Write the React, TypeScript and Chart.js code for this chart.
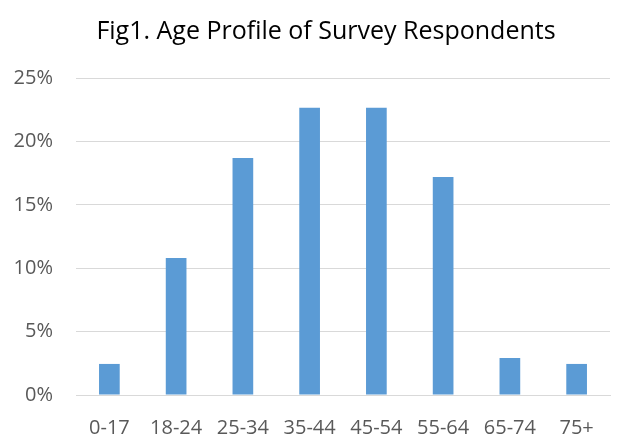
import React, { useEffect, useRef } from "react";
import { Chart, registerables } from "chart.js";

Chart.register(...registerables);

const categories = ["0-17", "18-24", "25-34", "35-44", "45-54", "55-64", "65-74", "75+"];
const shares = [2.45, 10.8, 18.7, 22.65, 22.65, 17.2, 2.92, 2.45];
const yTicks = [0, 5, 10, 15, 20, 25];
const titleText = "Fig1. Age Profile of Survey Respondents";

const shiftTitle = {
  id: "shiftTitle",
  afterLayout(chart: any) {
    if (chart.titleBlock) {
      chart.titleBlock.left = 42;
    }
  },
};

export default function App() {
  const ref = useRef<HTMLCanvasElement | null>(null);

  useEffect(() => {
    if (!ref.current) return;
    const chart = new Chart(ref.current, {
      type: "bar",
      data: {
        labels: categories,
        datasets: [
          {
            data: shares,
            backgroundColor: "#5B9BD5",
            barPercentage: 0.31,
            categoryPercentage: 1,
          },
        ],
      },
      plugins: [shiftTitle],
      options: {
        animation: false,
        responsive: false,
        maintainAspectRatio: false,
        layout: { padding: { left: 12, right: 11, top: 0, bottom: 0 } },
        plugins: {
          legend: { display: false },
          tooltip: { enabled: false },
          title: {
            display: true,
            text: titleText,
            color: "#000000",
            font: { family: "Open Sans", size: 25, weight: "normal" },
            padding: { top: 17, bottom: 31 },
          },
        },
        scales: {
          x: {
            afterFit: (scale: any) => {
              scale.height = 40;
            },
            grid: { display: false },
            border: { display: true, color: "#d9d9d9", width: 1 },
            ticks: {
              color: "#595959",
              font: { family: "Open Sans", size: 20 },
              padding: 13,
              maxRotation: 0,
              autoSkip: false,
            },
          },
          y: {
            min: yTicks[0],
            max: yTicks[yTicks.length - 1],
            afterBuildTicks: (scale: any) => {
              scale.ticks = yTicks.map((v) => ({ value: v }));
            },
            afterFit: (scale: any) => {
              scale.width = 64;
            },
            grid: { color: "#d9d9d9", lineWidth: 1, drawTicks: false },
            border: { display: false },
            ticks: {
              color: "#595959",
              font: { family: "Open Sans", size: 20 },
              padding: 23,
              callback: (v: any) => v + "%",
            },
          },
        },
      },
    });
    return () => chart.destroy();
  }, []);

  return (
    <div style={{ position: "absolute", left: 0, top: 0, width: 621, height: 435, background: "#fff" }}>
      <canvas ref={ref} width={621} height={435} style={{ width: 621, height: 435 }} />
    </div>
  );
}
